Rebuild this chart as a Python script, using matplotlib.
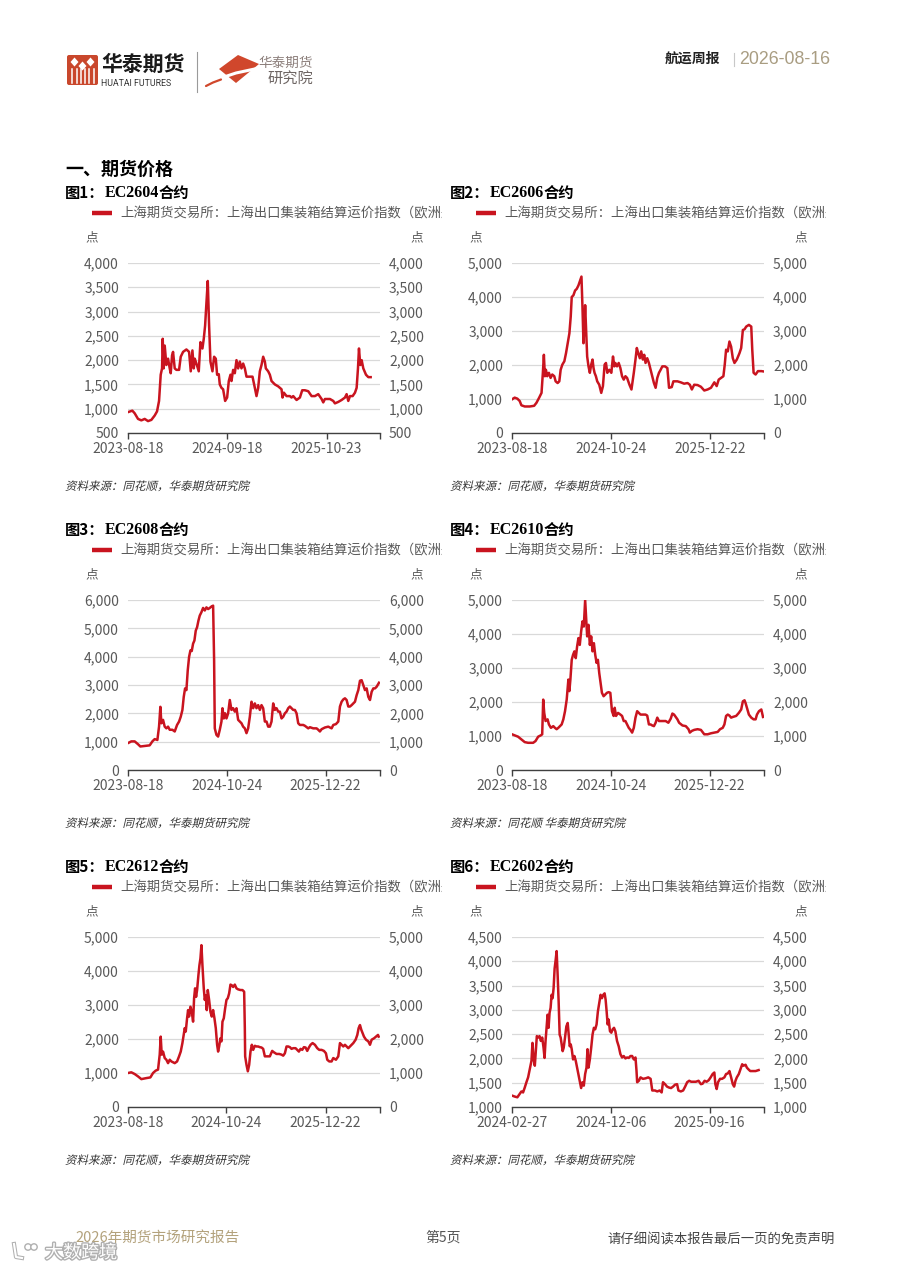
import matplotlib
matplotlib.use('Agg')
import matplotlib.pyplot as plt
from matplotlib.patches import Polygon, PathPatch, FancyBboxPatch, Circle
from matplotlib.textpath import TextPath
from matplotlib.font_manager import FontProperties
from matplotlib.transforms import Affine2D, Bbox, TransformedBbox
import matplotlib.patheffects as pe

# ---------------- data ----------------
LEGEND = "上海期货交易所：上海出口集装箱结算运价指数（欧洲航线）"

ec2604_idx = [0,13,20,30,40,50,60,70,80,87,93,98,102,104,107,110,115,120,125,128,
              132,135,140,145,153,158,165,175,183,188,193,197,200,205,212,217,223,227,231,235,
              239,243,247,253,258,263,267,272,275,280,285,291,297,302,307,310,315,320,325,330,
              335,340,345,350,355,365,373,380,385,390,395,400,405,410,413,420,425,430,440,450,
              460,463,467,475,485,490,495,505,515,522,530,540,550,560,570,580,585,590,605,615,
              620,630,640,650,655,660,665,673,680,685,689,692,696,700,705,713,720,727]
ec2604_val = [930,960,906,790,760,790,745,770,860,945,1160,1700,1830,2440,1830,2300,1900,2030,1830,1730,
              2100,2170,1830,1800,1800,2070,2170,2220,2170,1770,2200,1830,2030,1930,1770,2370,2240,2440,2710,3180,
              3630,2710,1970,1770,2070,2030,1700,1710,1500,1430,1400,1160,1230,1570,1700,1570,1800,1730,2000,1830,
              1970,1830,1930,1830,1660,1660,1660,1430,1260,1430,1770,1900,2070,1970,1830,1770,1700,1570,1500,1460,
              1400,1230,1330,1260,1260,1230,1260,1180,1230,1380,1380,1360,1260,1260,1300,1200,1130,1200,1200,1160,
              1110,1140,1180,1230,1300,1160,1260,1260,1330,1430,1830,2240,1900,2000,1830,1700,1650,1650]

ec2606_idx = [0,8,16,23,28,38,53,66,73,81,88,92,95,98,101,105,110,115,120,126,
              130,136,141,145,150,156,161,166,171,175,178,183,188,193,198,203,207,210,213,216,
              218,221,224,228,232,236,240,243,246,250,254,260,266,271,276,280,284,290,296,301,
              305,308,313,318,323,328,333,338,343,350,356,363,368,372,376,381,385,390,394,398,
              403,408,413,418,423,428,433,438,443,448,456,463,468,476,481,493,503,513,523,530,
              536,543,553,563,573,583,593,603,610,616,623,630,634,638,643,648,653,658,663,670,
              678,683,688,693,698,706,713,716,720,726,733,743,750]
ec2606_val = [990,1040,1010,940,815,780,780,800,890,1040,1180,1770,2300,1670,1860,1670,1770,1620,1720,1670,
              1520,1470,1520,1860,2010,2110,2350,2640,2930,3420,4000,4050,4190,4240,4340,4490,4600,3710,2640,3220,
              3760,3030,2250,1960,1770,2010,2160,1910,1770,1670,1520,1420,1180,1380,2010,2060,1770,1860,1770,2250,
              1960,2060,1960,2060,1910,1670,1570,1670,1620,1420,1280,1770,2160,2500,2350,2200,2400,2160,2300,2060,
              2200,2060,1860,1670,1470,1330,1620,1770,1860,1960,1960,1910,1330,1350,1520,1520,1490,1450,1470,1420,
              1280,1420,1410,1360,1250,1280,1330,1490,1380,1570,1620,1670,2010,2450,2400,2690,2540,2200,2060,2160,
              2350,2500,3030,3050,3130,3180,3130,2450,1770,1720,1820,1820,1810]

ec2608_idx = [0,10,20,30,37,50,65,73,80,88,93,97,100,105,110,115,120,125,133,140,
              147,153,158,163,167,171,175,179,183,187,191,195,199,203,207,211,215,220,225,230,
              235,240,245,250,255,258,260,265,270,275,280,283,287,291,295,300,305,310,315,320,
              325,330,335,340,345,350,355,360,365,370,375,380,385,390,395,400,405,410,415,420,
              425,430,435,440,445,450,455,460,465,470,475,480,485,490,495,500,505,510,515,525,
              530,540,545,555,565,570,575,580,590,600,610,615,623,630,635,640,645,650,655,660,
              665,670,675,680,685,690,695,700,705,710,715,720,725,730,735,740,745,752]
ec2608_val = [950,1010,1010,910,830,850,870,1010,1090,1060,1530,2230,1650,1770,1530,1470,1530,1420,1420,1360,
              1590,1710,1880,2120,2580,2880,2820,3520,3990,4220,4200,4460,4570,4920,5040,5270,5450,5570,5720,5630,
              5740,5680,5720,5770,5800,3870,1470,1240,1180,1420,1710,2180,1820,2000,1820,2000,2470,2120,2180,2060,
              2180,1770,1710,1650,1530,1470,1300,1470,1880,2410,2180,2350,2180,2290,2120,2290,2180,1710,1710,1530,
              1530,1710,2350,2120,2180,2060,2060,1820,1880,2000,2060,2180,2240,2180,2120,2120,2000,1650,1590,1590,
              1560,1470,1510,1470,1470,1420,1360,1440,1500,1530,1470,1590,1620,1710,2240,2410,2490,2530,2470,2240,
              2240,2290,2350,2410,2640,2820,3150,3170,2990,2820,2880,2580,2470,2760,2880,2880,2940,3080]

ec2610_idx = [0,8,18,28,38,48,63,70,78,86,90,93,96,100,106,110,116,123,128,133,
              138,143,148,153,158,163,168,171,174,178,182,186,190,194,198,202,206,210,214,218,
              221,224,228,232,236,240,244,248,252,256,260,264,268,273,278,283,288,293,298,303,
              306,310,316,323,328,333,338,343,348,353,358,363,368,373,378,383,388,393,398,403,
              408,413,418,423,428,433,438,448,458,466,473,478,483,488,493,498,508,518,526,530,
              536,543,553,563,573,583,593,603,613,620,628,633,638,643,648,653,658,668,676,683,
              688,693,696,700,706,713,720,726,730,736,743,748]
ec2610_val = [1050,1020,980,900,820,800,800,850,980,1020,1050,2070,1680,1440,1490,1340,1240,1290,1240,1200,
              1240,1290,1340,1490,1730,2070,2660,2320,2660,3240,3390,3490,3290,3630,3880,3680,4070,4370,4220,5000,
              4460,3930,4270,3680,3930,3490,3730,3390,3150,3240,2850,2560,2270,2170,2220,2270,2290,2270,1730,1590,
              1830,1590,1680,1630,1590,1440,1440,1340,1240,1180,1100,1240,1540,1730,1680,1630,1630,1630,1630,1600,
              1340,1340,1310,1290,1390,1540,1440,1440,1440,1390,1510,1660,1630,1560,1490,1390,1310,1290,1200,1100,
              1150,1180,1200,1180,1050,1050,1080,1100,1120,1200,1240,1340,1590,1630,1600,1540,1560,1590,1680,1780,
              2020,2050,1970,1830,1630,1540,1490,1490,1630,1730,1780,1560]

ec2612_idx = [0,10,20,30,40,55,67,75,83,90,95,98,101,105,110,115,120,125,130,140,
              147,153,158,163,167,170,173,177,180,183,187,191,195,198,201,204,207,211,214,217,
              220,223,227,230,233,236,239,243,247,251,255,259,263,267,270,273,277,280,283,287,
              291,295,299,303,307,311,315,320,325,330,337,343,348,350,351,355,359,363,367,371,
              375,380,385,390,395,400,405,410,417,425,432,437,445,453,460,465,470,475,480,485,
              490,495,502,507,512,517,522,527,532,537,542,547,553,560,567,573,580,587,593,597,
              603,610,615,623,630,635,640,645,650,655,660,667,675,682,687,691,695,699,703,707,
              713,720,725,730,737,743,749,751]
ec2612_val = [1000,1020,970,900,820,850,870,1000,1070,1100,1540,2070,1540,1630,1440,1390,1290,1390,1340,1290,
              1340,1490,1630,1880,2120,2320,2220,2610,2850,2660,2950,2800,2510,3200,3490,3240,3440,3880,4170,4370,
              4760,4170,3490,3150,3290,2850,3440,3150,2800,2660,2850,2610,2320,1830,1630,1780,2020,1930,2510,2610,
              2900,3150,3200,3340,3600,3580,3530,3600,3490,3460,3440,3440,3390,2320,1490,1240,1050,1240,1630,1830,
              1680,1800,1780,1780,1760,1750,1710,1490,1490,1490,1650,1610,1560,1560,1540,1510,1580,1780,1780,1760,
              1710,1730,1730,1680,1630,1710,1680,1760,1750,1650,1750,1830,1880,1830,1730,1680,1680,1650,1580,1390,
              1340,1340,1440,1390,1490,1880,1830,1780,1830,1780,1730,1800,1880,1980,2120,2320,2410,2270,2170,2070,
              1980,1930,1830,1980,2020,2070,2120,2070]

ec2602_idx = [0,8,16,23,28,33,38,43,48,53,58,61,64,68,71,74,78,82,86,90,
              94,97,100,103,106,109,112,115,118,121,124,127,130,133,136,139,142,145,148,151,
              154,158,162,166,169,172,175,178,182,186,190,194,198,202,206,210,214,218,222,225,
              228,232,236,240,244,248,252,256,260,264,268,272,276,279,282,285,288,292,296,300,
              304,308,313,318,323,328,333,338,343,348,353,358,363,368,371,373,378,383,390,398,
              406,413,418,426,433,440,446,450,456,462,468,474,480,486,492,496,503,510,516,522,
              528,534,540,548,556,563,568,574,580,586,592,598,603,606,610,614,620,626,633,638,
              643,648,653,658,662,666,670,676,681,686,690,696,700,704,710,718,726,735]
ec2602_val = [1235,1215,1200,1270,1320,1300,1400,1510,1610,1780,1950,2320,2010,1850,2150,2460,2430,2460,2360,2430,
              2220,2010,2360,2630,2900,2630,2940,3040,3310,3240,3450,3850,4020,4210,3720,3170,2490,2430,2290,2150,
              2220,2430,2660,2730,2490,2250,2290,2190,1980,2050,1950,1810,1680,1540,1390,1510,1440,1680,1810,2190,
              1810,1980,2220,2490,2630,2600,2700,2970,3140,3310,3240,3310,3340,3210,2970,2700,2800,2560,2530,2600,
              2630,2560,2360,2250,2090,2020,2050,2000,2020,2010,2050,2050,1980,2020,1750,1510,1540,1610,1580,1590,
              1610,1580,1340,1340,1320,1340,1300,1510,1470,1420,1400,1390,1420,1460,1470,1340,1320,1340,1420,1510,
              1540,1520,1520,1520,1540,1470,1480,1540,1520,1550,1610,1680,1710,1470,1370,1510,1580,1580,1610,1680,
              1690,1740,1610,1470,1420,1540,1610,1680,1780,1880,1850,1870,1810,1780,1740,1740,1740,1760]

dates_a = ['2023-08-18', '2024-09-18', '2025-10-23']
dates_b = ['2023-08-18', '2024-10-24', '2025-12-22']
dates_c = ['2024-02-27', '2024-12-06', '2025-09-16']

yt_2604 = [500, 1000, 1500, 2000, 2500, 3000, 3500, 4000]
yt_5k = [0, 1000, 2000, 3000, 4000, 5000]
yt_6k = [0, 1000, 2000, 3000, 4000, 5000, 6000]
yt_2602 = [1000, 1500, 2000, 2500, 3000, 3500, 4000, 4500]

SRC = "资料来源：同花顺，华泰期货研究院"
SRC4 = "资料来源：同花顺 华泰期货研究院"

panels = [
    # (col,row, no, code, idx, val, yticks, tick_pos, tick_labels, xend, src)
    (0, 0, 1, 'EC2604', ec2604_idx, ec2604_val, yt_2604, [0, 298, 595], dates_a, 755, SRC),
    (1, 0, 2, 'EC2606', ec2606_idx, ec2606_val, yt_5k, [0, 294, 590], dates_b, 751, SRC),
    (0, 1, 3, 'EC2608', ec2608_idx, ec2608_val, yt_6k, [0, 297, 592], dates_b, 755, SRC),
    (1, 1, 4, 'EC2610', ec2610_idx, ec2610_val, yt_5k, [0, 294, 589], dates_b, 751, SRC4),
    (0, 2, 5, 'EC2612', ec2612_idx, ec2612_val, yt_5k, [0, 295, 592], dates_b, 755, SRC),
    (1, 2, 6, 'EC2602', ec2602_idx, ec2602_val, yt_2602, [0, 294, 589], dates_c, 751, SRC),
]

# ---------------- figure ----------------
W, H = 900, 1272
CJK = ['Noto Sans CJK SC', 'DejaVu Sans']
plt.rcParams['font.family'] = CJK
fig = plt.figure(figsize=(W / 100, H / 100), dpi=100)
fig.patch.set_facecolor('white')

RED = '#c9141f'
GRAY = '#595959'
TAN = '#a99d82'

def fx(x):
    return x / W

def fy(y):
    return 1 - y / H

ov = fig.add_axes([0, 0, 1, 1], zorder=-1)
ov.set_xlim(0, W)
ov.set_ylim(H, 0)
ov.axis('off')
ov.patch.set_visible(False)

def px_clip(x0, y0, x1, y1):
    return TransformedBbox(Bbox([[fx(x0), fy(y1)], [fx(x1), fy(y0)]]), fig.transFigure)

def italic_text(x, y, s, size, color):
    tp = TextPath((0, 0), s, size=size, prop=FontProperties(family='Noto Sans CJK SC'))
    tr = Affine2D().skew_deg(13, 0).scale(1, -1).translate(x, y) + ov.transData
    ov.add_patch(PathPatch(tp, transform=tr, facecolor=color, edgecolor='none'))

# ---------------- header ----------------
ov.add_patch(FancyBboxPatch((67, 55), 31, 30, boxstyle='round,pad=0,rounding_size=2',
                            facecolor='#c9472c', edgecolor='none'))
for cx, cy in [(74.5, 62), (90.5, 62), (82.5, 66)]:
    ov.add_patch(Polygon([(cx, cy - 4.5), (cx + 4, cy), (cx, cy + 4.5), (cx - 4, cy)],
                         closed=True, facecolor='white', edgecolor='none'))
for bx in [71.5, 76.5, 80.5, 84.5, 88.5, 93.5]:
    ov.plot([bx, bx], [69, 83], color='white', lw=1.1)
ov.text(101, 64, "华泰期货", fontsize=15, fontweight='bold', color='#1a1a1a', va='center', ha='left')
ov.text(101, 83.5, "HUATAI FUTURES", fontsize=6.3, color='#333333', va='center', ha='left',
        family=['Roboto', 'DejaVu Sans'])
ov.plot([197, 197], [52, 92], color='#9a9a9a', lw=0.8)
ov.add_patch(Polygon([(238, 55), (259, 64), (236, 83), (219, 69)], closed=True,
                     facecolor='#d0472c', edgecolor='none'))
ov.plot([207, 214, 224, 236, 250, 257], [85, 81, 77, 73, 70, 68.5], color='white', lw=2.2,
        solid_capstyle='round')
ov.plot([206, 213, 221], [86, 82.5, 79.5], color='#d0472c', lw=1.6, solid_capstyle='round')
ov.text(258, 63, "华泰期货", fontsize=9.8, color='#8c7f7b', va='center', ha='left')
ov.text(268, 79, "研究院", fontsize=11, color='#6e6664', va='center', ha='left')

ov.text(665, 59, "航运周报", fontsize=10, fontweight='bold', color='#222222', va='center', ha='left')
ov.plot([734, 734], [53, 66], color='#c8c8c8', lw=0.8)
ov.text(739, 59, "2026-08-16", fontsize=12.8, color=TAN, va='center', ha='left',
        family=['Liberation Sans', 'DejaVu Sans'])

ov.text(65, 169, "一、期货价格", fontsize=13, fontweight='bold', color='black', va='center', ha='left')

# ---------------- panels ----------------
renderer = fig.canvas.get_renderer()

for col, row, no, code, idx, val, yticks, tpos, tlab, xend, src in panels:
    dx = 384 * col
    x0, x1 = 128 + dx, 380 + dx
    yt = [263, 600, 937][row]
    yb = yt + 170
    ax = fig.add_axes([fx(x0), fy(yb), (x1 - x0) / W, (yb - yt) / H])
    ax.plot(idx, val, color=RED, lw=1.8, solid_joinstyle='round', zorder=3)
    ax.set_xlim(0, xend)
    ax.set_ylim(yticks[0], yticks[-1])
    ax.set_yticks(yticks)
    ax.set_yticklabels([f"{v:,}" for v in yticks])
    ax.set_xticks(list(tpos) + [xend])
    ax.set_xticklabels(list(tlab) + [''])
    ax.grid(axis='y', color='#d9d9d9', lw=0.9, zorder=0)
    ax.set_axisbelow(True)
    for s in ['left', 'right', 'top']:
        ax.spines[s].set_visible(False)
    ax.spines['bottom'].set_color('#404040')
    ax.spines['bottom'].set_linewidth(1.0)
    ax.tick_params(axis='y', length=0, pad=6.5, labelsize=10, labelcolor=GRAY,
                   labelleft=True, labelright=True)
    ax.tick_params(axis='x', direction='out', length=4.5, width=1.0, color='#404040',
                   pad=2, labelsize=10, labelcolor=GRAY)
    ax.patch.set_visible(False)

    tx = 65 + 385 * col
    ty = yt - 70
    t1 = ov.text(tx, ty, f"图{no}：", fontsize=11, fontweight='bold', color='black',
                 va='center', ha='left')
    bb = t1.get_window_extent(renderer)
    t2 = ov.text(bb.x1, ty, code, fontsize=11.5, fontweight='bold', color='black', va='center',
                 ha='left', family=['Liberation Serif', 'DejaVu Serif'])
    bb2 = t2.get_window_extent(renderer)
    ov.text(bb2.x1, ty, "合约", fontsize=11, fontweight='bold', color='black',
            va='center', ha='left')

    ly = yt - 50
    ov.plot([92 + dx, 112 + dx], [ly, ly], color=RED, lw=3.2, solid_capstyle='butt')
    lt = ov.text(120 + dx, ly, LEGEND, fontsize=9.6, color=GRAY, va='center', ha='left')
    lt.set_clip_box(px_clip(0, ly - 20, 442 + dx, ly + 20))
    lt.set_clip_on(True)

    ov.text(92 + dx, yt - 25, "点", fontsize=9, color=GRAY, va='center', ha='center')
    ov.text(417 + dx, yt - 25, "点", fontsize=9, color=GRAY, va='center', ha='center')

    italic_text(65 + 385 * col, yb + 57, src, 11.5, '#333333')

# ---------------- footer ----------------
ov.text(75, 1238, "2026年期货市场研究报告", fontsize=10.5, color='#b3a27c', va='center', ha='left')
ov.text(443, 1238, "第5页", fontsize=10, color='#555555', va='center', ha='center')
ov.text(835, 1240, "请仔细阅读本报告最后一页的免责声明", fontsize=9.6, color='#444444',
        va='center', ha='right')
wm = ov.text(45, 1253, "大数跨境", fontsize=13, color='white', va='center', ha='left')
wm.set_path_effects([pe.withStroke(linewidth=2, foreground='#b0b0b0')])
for cx, cy, r in [(28, 1247, 3.2), (34, 1247, 3.2)]:
    ov.add_patch(Circle((cx, cy), r, facecolor='white', edgecolor='#b0b0b0', lw=1))
ov.plot([14, 16, 22], [1244, 1257, 1258], color='#b0b0b0', lw=3)
ov.plot([14, 16, 22], [1244, 1257, 1258], color='white', lw=1.5)

fig.savefig('out.png', dpi=100, facecolor='white')
